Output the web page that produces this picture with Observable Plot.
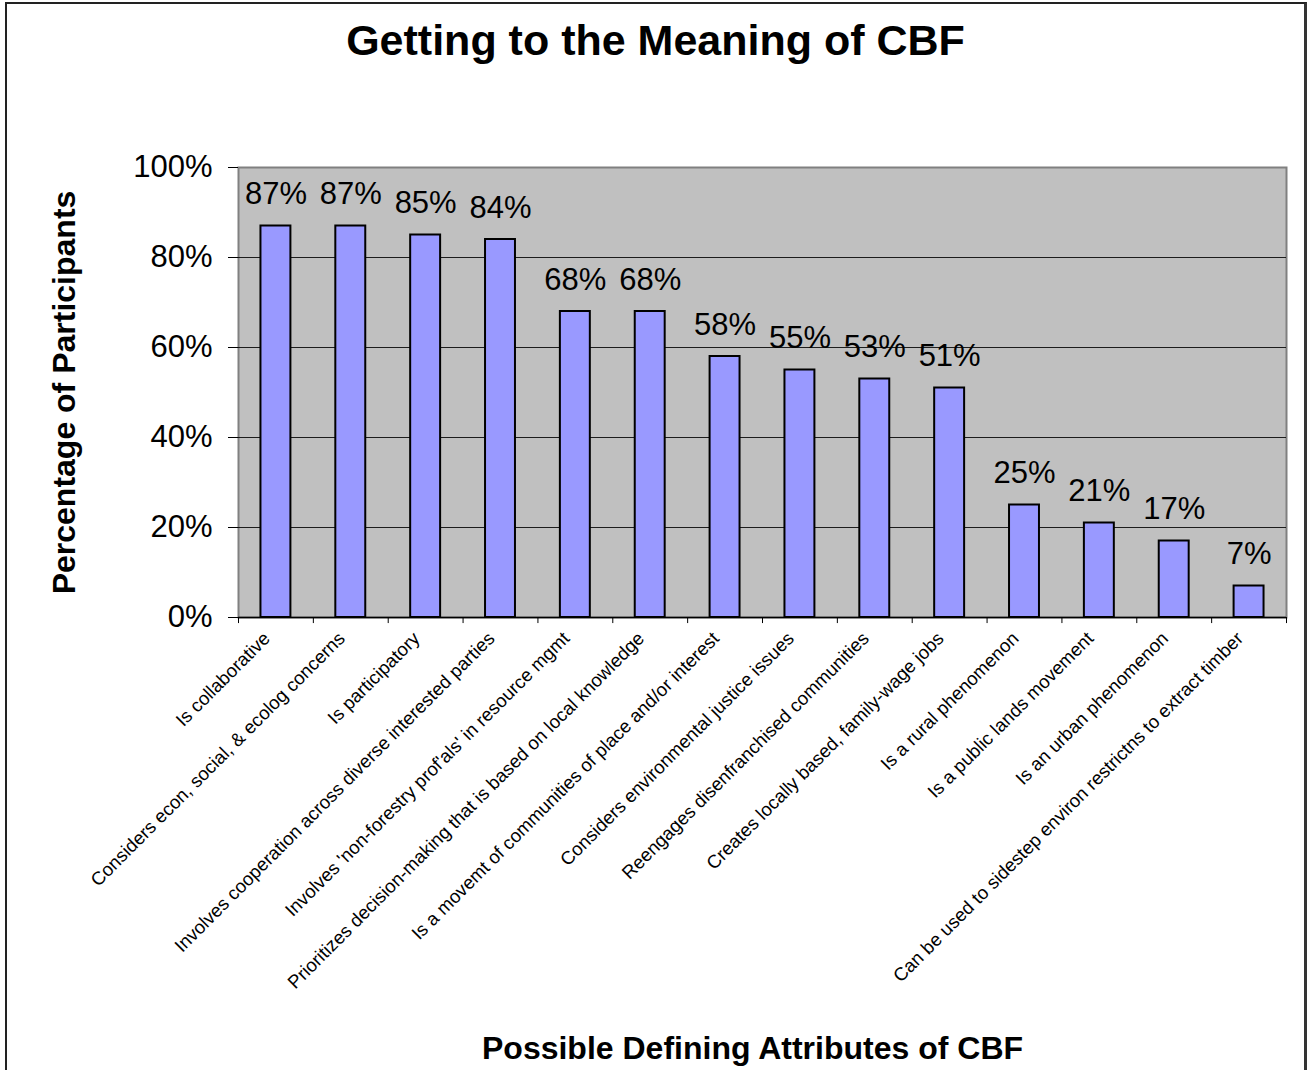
<!DOCTYPE html>
<html>
<head>
<meta charset="utf-8">
<script src="https://cdn.jsdelivr.net/npm/d3@7"></script>
<script src="https://cdn.jsdelivr.net/npm/@observablehq/plot@0.6"></script>
<style>
  html, body { margin: 0; padding: 0; background: #fff; overflow: hidden; }
  #frame {
    position: absolute; left: 5px; top: 2px;
    width: 1302px; height: 1110px; box-sizing: border-box;
    border-top: 2px solid #222; border-left: 2px solid #222; border-right: 3px solid #333;
    border-bottom: 2px solid #222;
  }
  #title {
    height: 90px; box-sizing: border-box; padding-top: 12px;
    font: bold 43px "Liberation Sans", Arial, sans-serif; line-height: normal;
    text-align: center; color: #000;
  }
  #chart svg { display: block; }
</style>
</head>
<body>
<div id="frame">
  <div id="title">Getting to the Meaning of CBF</div>
  <div id="chart"></div>
</div>
<script>
// Survey results: share of participants agreeing with each attribute of CBF
const attributes = [
  "Is collaborative",
  "Considers econ, social, & ecolog concerns",
  "Is participatory",
  "Involves cooperation across diverse interested parties",
  "Involves 'non-forestry prof'als' in resource mgmt",
  "Prioritizes decision-making that is based on local knowledge",
  "Is a movemt of communities of place and/or interest",
  "Considers environmental justice issues",
  "Reengages disenfranchised communities",
  "Creates locally based, family-wage jobs",
  "Is a rural phenomenon",
  "Is a public lands movement",
  "Is an urban phenomenon",
  "Can be used to sidestep environ restrictns to extract timber"
];
const shares = [87, 87, 85, 84, 68, 68, 58, 55, 53, 51, 25, 21, 17, 7];
const yTicks = [0, 20, 40, 60, 80, 100];
const yTitle = "Percentage of Participants";
const xTitle = "Possible Defining Attributes of CBF";

const rows = attributes.map((a, i) => ({attribute: a, share: shares[i]}));

const width = 1297, height = 976;
const marginLeft = 231, marginRight = 18, marginTop = 73, marginBottom = 453;
const step = (width - marginLeft - marginRight) / attributes.length;
const font = "'Liberation Sans', Arial, sans-serif";

const chart = Plot.plot({
  width, height, marginLeft, marginRight, marginTop, marginBottom,
  style: {fontFamily: font, fontSize: "31px", color: "#000", background: "transparent", overflow: "visible"},
  x: {domain: attributes, paddingInner: 0.6, paddingOuter: 0.3, round: false},
  y: {domain: [0, 100]},
  marks: [
    // plot area
    Plot.frame({fill: "#c0c0c0", stroke: "#808080", strokeWidth: 2}),
    Plot.gridY(yTicks.slice(1, -1), {stroke: "#000", strokeOpacity: 0.85, strokeWidth: 1}),
    Plot.ruleY([0], {stroke: "#000", strokeWidth: 1.5}),
    // bars and value labels
    Plot.barY(rows, {x: "attribute", y: "share", fill: "#9999ff", stroke: "#000", strokeWidth: 2}),
    Plot.text(rows, {x: "attribute", y: "share", text: d => `${d.share}%`, lineAnchor: "bottom", dy: -22, fontSize: 31, fill: "#000"}),
    // y axis
    Plot.axisY({ticks: yTicks, tickFormat: d => `${d}%`, tickSize: 10, tickPadding: 16, fontSize: 31, label: null, stroke: "#000"}),
    // x axis: tick marks between categories, rotated category labels
    Plot.ruleX(attributes, {x: d => d, dx: -step / 2, y1: 0, y2: -1.35, stroke: "#000"}),
    Plot.ruleX(attributes.slice(-1), {x: d => d, dx: step / 2, y1: 0, y2: -1.35, stroke: "#000"}),
    Plot.axisX({tickRotate: -45, tickSize: 0, tickPadding: 18, fontSize: 18.6, textAnchor: "end", dx: -9, label: null}),
    // axis titles
    Plot.text([yTitle], {frameAnchor: "left", rotate: -90, dx: -186, lineAnchor: "top", textAnchor: "middle", fontSize: 32, fontWeight: "bold", fill: "#000"}),
    Plot.text([xTitle], {frameAnchor: "bottom", dy: 441, dx: -10, lineAnchor: "bottom", textAnchor: "middle", fontSize: 32, fontWeight: "bold", fill: "#000"})
  ]
});
document.getElementById("chart").appendChild(chart);
</script>
</body>
</html>
